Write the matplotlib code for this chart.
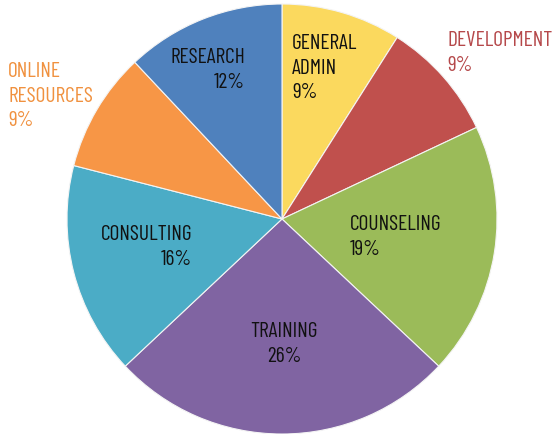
import matplotlib
matplotlib.use("Agg")
import matplotlib.pyplot as plt

categories = ["GENERAL\nADMIN", "DEVELOPMENT", "COUNSELING", "TRAINING",
              "CONSULTING", "ONLINE\nRESOURCES", "RESEARCH"]
shares = [9, 9, 19, 26, 16, 9, 12]
colors = ["#fbd95e", "#c0504d", "#9bbb59", "#8064a2", "#4bacc6", "#f79646", "#4f81bd"]

W, H = 553, 435
fig = plt.figure(figsize=(W / 100, H / 100), dpi=100)
ax = fig.add_axes([0, 0, 1, 1])

cx, cy, r = 282, 220, 215
wedges, _ = ax.pie(shares, colors=colors, startangle=90, counterclock=False,
                   center=(cx, -cy), radius=r,
                   wedgeprops=dict(edgecolor="#f4f4f4", linewidth=0.8))
# flip pie into the inverted y axis
for w in wedges:
    w.set_center((cx, cy))
    t1, t2 = w.theta1, w.theta2
    w.set_theta1(-t2)
    w.set_theta2(-t1)
ax.set_xlim(0, W)
ax.set_ylim(H, 0)
ax.set_aspect("equal")
ax.axis("off")

font = ["Barlow Condensed", "DejaVu Sans"]
fs = 15.5

def label(x, y, name, pct, ha, color="#111111"):
    ax.text(x, y, f"{name}\n{pct}%", ha=ha, va="top", fontsize=fs,
            family=font, color=color, linespacing=1.38,
            multialignment=ha)

label(245, 48, categories[6], shares[6], "right")
label(292, 34, categories[0], shares[0], "left")
label(447, 31, categories[1], shares[1], "left", color="#b5484a")
label(8, 62, categories[5], shares[5], "left", color="#f0913f")
label(350, 215, categories[2], shares[2], "left")
label(192, 225, categories[4], shares[4], "right")
label(284, 322, categories[3], shares[3], "center")

fig.savefig("out.png", dpi=100, facecolor="white")
